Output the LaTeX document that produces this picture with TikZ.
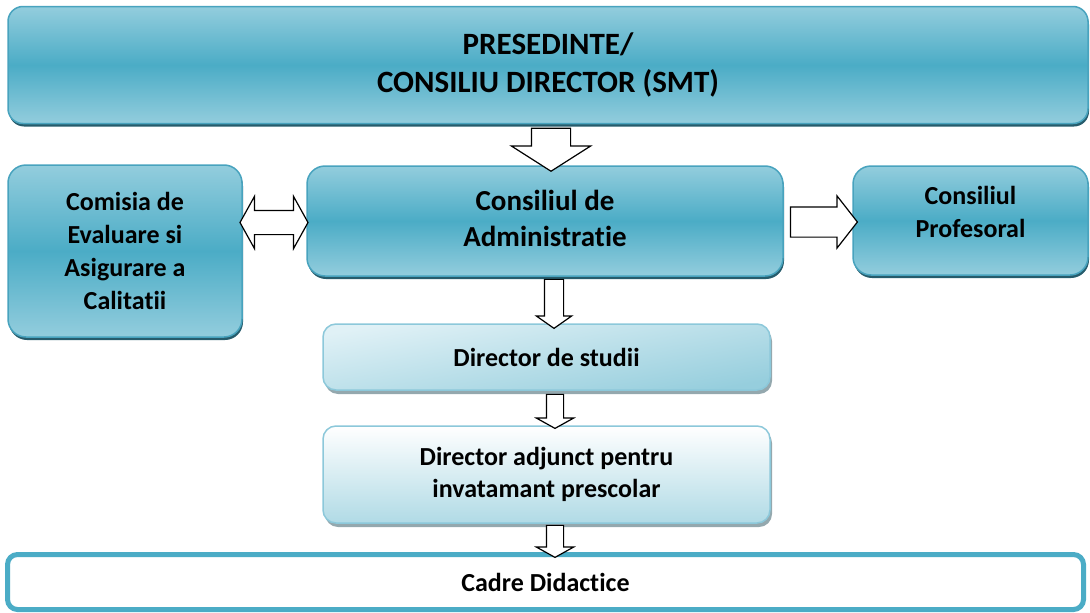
\documentclass[tikz,border=0pt]{standalone}
\usepackage{fontspec}
\setmainfont[Ligatures=NoCommon]{Carlito}
\usetikzlibrary{shapes.arrows, shadows}
\definecolor{aqualight}{RGB}{147,205,221}
\definecolor{aquamid}{RGB}{75,172,198}
\definecolor{aquaedge}{RGB}{72,163,190}
\definecolor{aquashadow}{RGB}{38,92,108}
\definecolor{palefill}{RGB}{224,241,246}
\definecolor{paleblue}{RGB}{150,206,221}
\definecolor{paleedge}{RGB}{140,200,218}
\definecolor{greyshadow}{RGB}{148,168,174}

\tikzset{
  mainbox/.style={draw=aquaedge, line width=1.5pt, rounded corners=18pt,
    top color=aqualight, bottom color=aqualight, middle color=aquamid,
    align=center, font=\bfseries,
    drop shadow={fill=aquashadow, opacity=1, shadow xshift=1pt, shadow yshift=-3pt}},
  lightbox/.style={draw=paleedge, line width=1.5pt, rounded corners=13pt,
    align=center, font=\bfseries\fontsize{26}{32}\selectfont,
    drop shadow={fill=greyshadow, opacity=1, shadow xshift=2pt, shadow yshift=-4pt}},
  blockarrow/.style={draw=black, fill=white, line width=1.2pt, inner sep=0pt, minimum width=0pt},
}

\begin{document}
\begin{tikzpicture}[x=1pt, y=-1pt]
  \useasboundingbox (0,0) rectangle (1090,613);

  % boxes
  \node[mainbox, minimum width=1080pt, minimum height=117pt, rounded corners=15pt,
        font=\bfseries\fontsize{31}{38}\selectfont] (smt) at (548,65)
        {PRESEDINTE/\\CONSILIU DIRECTOR (SMT)};
  \node[mainbox, minimum width=234pt, minimum height=172pt,
        font=\bfseries\fontsize{26}{33}\selectfont] (comisia) at (125,251)
        {Comisia de\\Evaluare si\\Asigurare a\\Calitatii};
  \node[mainbox, minimum width=476pt, minimum height=110pt,
        font=\bfseries\fontsize{29}{36}\selectfont] (admin) at (545,221)
        {Consiliul de\\Administratie\vphantom{p}};
  \node[mainbox, minimum width=235pt, minimum height=109pt,
        label={[yshift=9pt, align=center, font=\bfseries\fontsize{26}{33}\selectfont]center:Consiliul\\Profesoral}]
        (prof) at (970.5,220.5) {};
  \node[lightbox, minimum width=447pt, minimum height=66pt,
        top color=palefill, bottom color=paleblue, shading angle=10] (studii) at (546.5,357)
        {Director de studii};
  \node[lightbox, minimum width=447pt, minimum height=97pt,
        top color=white, bottom color=paleblue!75] (adjunct) at (546.5,474.5)
        {Director adjunct pentru\\invatamant prescolar};
  \node[draw=aquamid, line width=5pt, rounded corners=10pt, fill=white,
        minimum width=1076pt, minimum height=55pt,
        font=\bfseries\fontsize{26}{32}\selectfont] (cadre) at (545.5,582)
        {Cadre Didactice};

  % block arrows between boxes
  \node[blockarrow, single arrow, rotate=-90, minimum height=43pt, inner ysep=19pt,
        single arrow head extend=20pt, single arrow tip angle=115] (smt-admin) at (551,143.5) {};
  \node[blockarrow, double arrow, minimum height=68pt, inner ysep=11.5pt,
        double arrow head extend=14pt, double arrow tip angle=122] (comisia-admin) at (274,222.5) {};
  \node[blockarrow, single arrow, minimum height=67pt, inner ysep=14.5pt,
        single arrow head extend=11pt, single arrow tip angle=104] (admin-prof) at (818,222) {};
  \node[blockarrow, single arrow, rotate=-90, minimum height=49pt, inner ysep=9pt,
        single arrow head extend=8pt, single arrow tip angle=110] (admin-studii) at (554,300.5) {};
  \node[blockarrow, single arrow, rotate=-90, minimum height=34pt, inner ysep=8pt,
        single arrow head extend=10pt, single arrow tip angle=122] (studii-adjunct) at (555,409) {};
  \node[blockarrow, single arrow, rotate=-90, minimum height=32pt, inner ysep=8pt,
        single arrow head extend=10pt, single arrow tip angle=122] (adjunct-cadre) at (555,539) {};
\end{tikzpicture}
\end{document}
